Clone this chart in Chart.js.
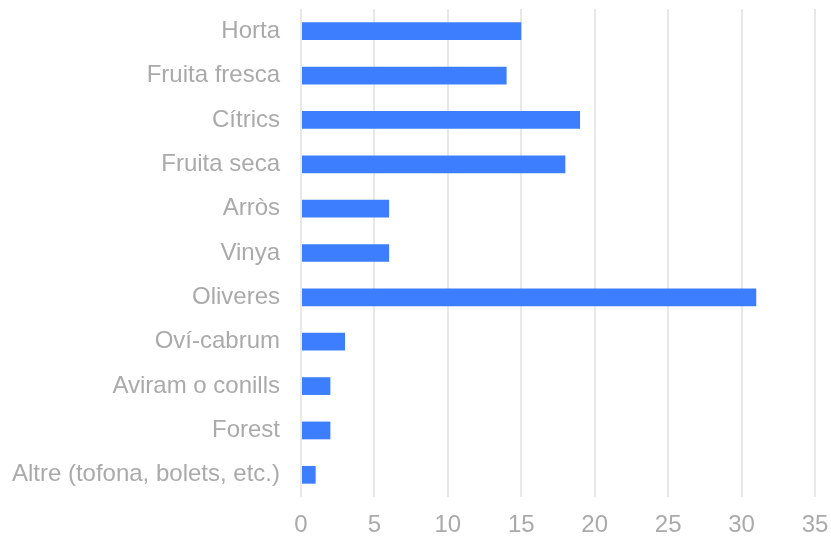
<!DOCTYPE html>
<html>
<head>
<meta charset="utf-8">
<script src="https://cdn.jsdelivr.net/npm/chart.js@4"></script>
<style>
  html, body { margin: 0; padding: 0; background: #fff; }
  #wrap { width: 831px; height: 538px; }
</style>
</head>
<body>
<div id="wrap"><canvas id="canvas"></canvas></div>
<script>
var categories = ['Horta', 'Fruita fresca', 'Cítrics', 'Fruita seca', 'Arròs', 'Vinya',
  'Oliveres', 'Oví-cabrum', 'Aviram o conills', 'Forest', 'Altre (tofona, bolets, etc.)'];
var values = [15, 14, 19, 18, 6, 6, 31, 3, 2, 2, 1];
var xTicks = [0, 5, 10, 15, 20, 25, 30, 35];

var font = { family: "'Liberation Sans', Arial, sans-serif", size: 24 };

var ctx = document.getElementById('canvas').getContext('2d');
var chart = new Chart(ctx, {
  type: 'bar',
  data: {
    labels: categories,
    datasets: [{
      data: values,
      backgroundColor: '#3d7eff',
      barPercentage: 0.8,
      categoryPercentage: 0.5
    }]
  },
  options: {
    indexAxis: 'y',
    responsive: true,
    maintainAspectRatio: false,
    animation: false,
    layout: { padding: { top: 9, right: 16, bottom: 0, left: 0 } },
    plugins: { legend: { display: false }, tooltip: { enabled: false } },
    scales: {
      x: {
        min: 0,
        max: 35,
        afterBuildTicks: function(axis) {
          axis.ticks = xTicks.map(function(v) { return { value: v }; });
        },
        afterFit: function(axis) {
          axis.height = 41;
          axis.paddingLeft = 0;
          axis.paddingRight = 0;
        },
        grid: { color: '#e8e8e8', lineWidth: 2, drawTicks: false },
        border: { display: false },
        ticks: { color: '#aaaaaa', padding: 14, font: font }
      },
      y: {
        afterFit: function(axis) {
          axis.width = 301;
          axis.paddingTop = 0;
          axis.paddingBottom = 0;
        },
        grid: { display: false },
        border: { display: false },
        ticks: { color: '#aaaaaa', padding: 13, font: font }
      }
    }
  }
});
</script>
</body>
</html>
